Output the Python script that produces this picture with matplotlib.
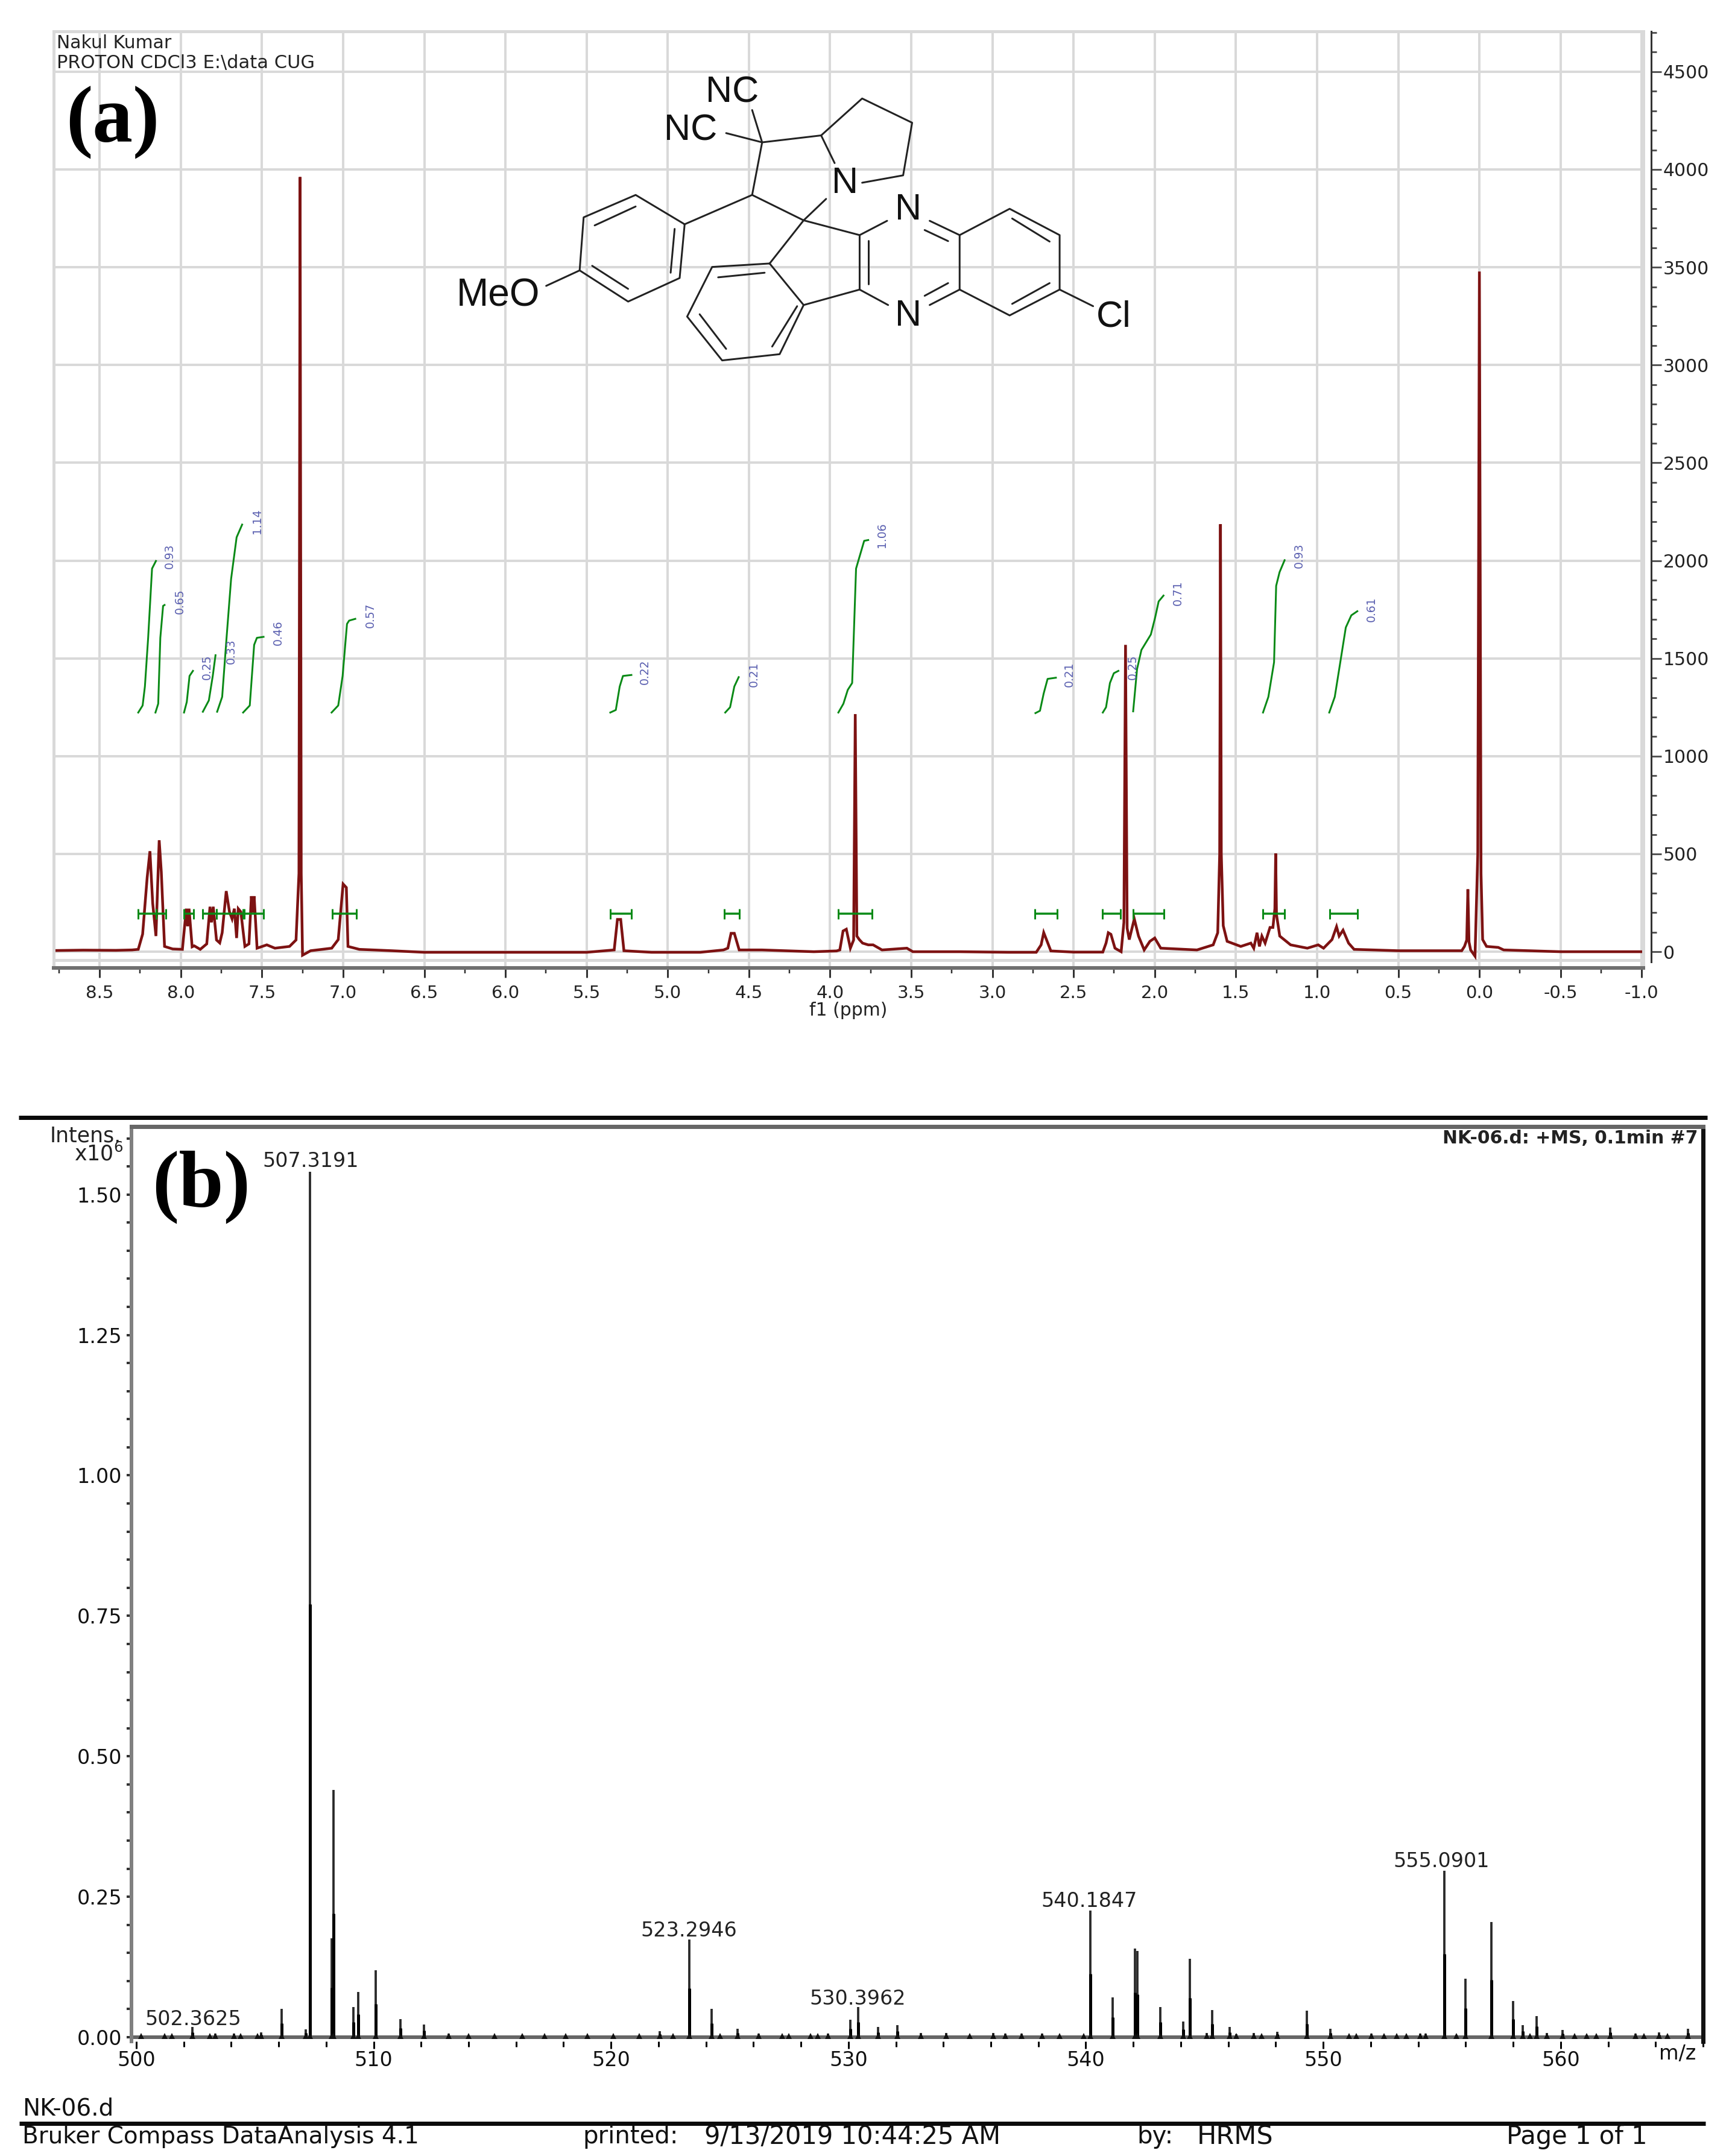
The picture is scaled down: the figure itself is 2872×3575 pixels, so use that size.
import numpy as np
import matplotlib
matplotlib.use("Agg")
import matplotlib.pyplot as plt
from matplotlib.ticker import MultipleLocator

W, H = 2872, 3575
DPI = 100
px = 72.0 / DPI  # one image pixel in points

# ---- panel (a): 1H NMR ----
nmr_ppm = [8.78, 8.6, 8.4, 8.3, 8.262, 8.235, 8.207, 8.19, 8.173, 8.153, 8.133, 8.12, 8.10, 8.05, 7.99,
           7.966, 7.958, 7.949, 7.93, 7.917, 7.88, 7.84, 7.82, 7.811, 7.80, 7.78, 7.76, 7.745, 7.72, 7.70, 7.684,
           7.67, 7.656, 7.646, 7.63, 7.605, 7.58, 7.565, 7.557, 7.548, 7.53, 7.47, 7.42, 7.33, 7.29, 7.272, 7.265,
           7.258, 7.25, 7.2, 7.07, 7.03, 7.0, 6.98, 6.97, 6.9, 6.7, 6.5, 6.0, 5.5, 5.33, 5.31, 5.29, 5.27, 5.1, 4.8,
           4.657, 4.63, 4.61, 4.59, 4.56, 4.42, 4.1, 3.96, 3.94, 3.92, 3.90, 3.875, 3.855, 3.845, 3.835, 3.82,
           3.80, 3.765, 3.735, 3.68, 3.527, 3.49, 3.2, 2.9, 2.73, 2.70, 2.684, 2.667, 2.64, 2.5, 2.32, 2.30, 2.286,
           2.27, 2.245, 2.207, 2.19, 2.18, 2.17, 2.157, 2.126, 2.10, 2.065, 2.03, 2.0, 1.963, 1.74, 1.64, 1.612,
           1.60, 1.595, 1.59, 1.578, 1.554, 1.47, 1.408, 1.39, 1.37, 1.355, 1.34, 1.32, 1.29, 1.272, 1.26, 1.255,
           1.25, 1.23, 1.163, 1.06, 0.993, 0.96, 0.908, 0.88, 0.864, 0.84, 0.806, 0.772, 0.5, 0.109, 0.092, 0.078,
           0.071, 0.064, 0.054, 0.027, 0.01, 0.0, -0.01, -0.02, -0.044, -0.116, -0.15, -0.5, -1.0]
nmr_int = [6, 8, 7, 9, 12, 90, 380, 514, 248, 80, 570, 408, 27, 14, 12,
           220, 130, 220, 25, 30, 12, 40, 230, 150, 230, 60, 45, 97, 310, 204, 168,
           220, 70, 220, 204, 27, 40, 284, 200, 284, 18, 35, 18, 27, 60, 400, 3961,
           400, -18, 5, 18, 62, 346, 328, 27, 12, 5, -3, -3, -3, 9, 165, 165, 5, -3, -3,
           9, 18, 94, 94, 9, 9, 0, 4, 9, 106, 115, 18, 60, 1215, 80, 62,
           44, 35, 35, 9, 18, 0, 0, -3, -3, 35, 98, 62, 4, -2, -2, 44, 97,
           89, 18, 0, 150, 1569, 120, 62, 168, 80, 9, 53, 70, 18, 9, 35, 97,
           500, 2186, 500, 133, 53, 27, 44, 18, 97, 27, 80, 44, 124, 124, 220, 502,
           190, 80, 35, 18, 35, 18, 62, 128, 80, 110, 44, 12, 5, 5, 27, 60,
           319, 50, 9, -23, 500, 3478, 400, 62, 27, 22, 9, 0, 0]

y_ticks_a = [0, 500, 1000, 1500, 2000, 2500, 3000, 3500, 4000, 4500]
x_ticks_a = [8.5, 8.0, 7.5, 7.0, 6.5, 6.0, 5.5, 5.0, 4.5, 4.0, 3.5, 3.0, 2.5, 2.0, 1.5, 1.0, 0.5, 0.0, -0.5, -1.0]

# integral curves (ppm, height) and their labels
int_x = [[8.262, 8.235, 8.221, 8.201, 8.177, 8.153],
         [8.156, 8.139, 8.126, 8.109, 8.10],
         [7.98, 7.963, 7.946, 7.925],
         [7.864, 7.827, 7.803, 7.786],
         [7.776, 7.745, 7.718, 7.69, 7.656, 7.622],
         [7.616, 7.575, 7.548, 7.531, 7.49],
         [7.071, 7.03, 7.003, 6.976, 6.963, 6.925],
         [5.354, 5.32, 5.296, 5.276, 5.224],
         [4.646, 4.616, 4.59, 4.563],
         [3.949, 3.918, 3.891, 3.864, 3.84, 3.79, 3.765],
         [2.735, 2.707, 2.684, 2.66, 2.609],
         [2.32, 2.30, 2.276, 2.252, 2.224],
         [2.133, 2.109, 2.082, 2.024, 1.997, 1.976, 1.946],
         [1.333, 1.30, 1.265, 1.252, 1.231, 1.20],
         [0.925, 0.891, 0.857, 0.823, 0.789, 0.752]]
int_y = [[1223, 1259, 1356, 1605, 1959, 1998],
         [1223, 1268, 1605, 1768, 1773],
         [1223, 1277, 1410, 1436],
         [1227, 1285, 1410, 1516],
         [1227, 1303, 1605, 1906, 2119, 2184],
         [1223, 1259, 1569, 1605, 1610],
         [1223, 1259, 1410, 1676, 1693, 1702],
         [1223, 1236, 1356, 1410, 1415],
         [1223, 1250, 1356, 1404],
         [1223, 1268, 1339, 1374, 1959, 2101, 2105],
         [1220, 1232, 1321, 1395, 1401],
         [1223, 1250, 1374, 1424, 1436],
         [1229, 1445, 1543, 1622, 1711, 1791, 1821],
         [1223, 1303, 1480, 1871, 1941, 2002],
         [1223, 1303, 1480, 1658, 1720, 1741]]
int_labels = ["0.93", "0.65", "0.25", "0.33", "1.14", "0.46", "0.57", "0.22", "0.21", "1.06", "0.21", "0.25", "0.71", "0.93", "0.61"]
int_label_x = [8.07, 8.007, 7.837, 7.69, 7.53, 7.40, 6.833, 5.14, 4.47, 3.68, 2.524, 2.136, 1.857, 1.112, 0.663]
int_label_y = [2021, 1791, 1454, 1534, 2202, 1631, 1720, 1431, 1418, 2131, 1417, 1454, 1835, 2025, 1752]

range_lo = [8.262, 8.153, 7.98, 7.864, 7.779, 7.616, 7.068, 5.354, 4.65, 3.949, 2.738, 2.323, 2.133, 1.333, 0.922]
range_hi = [8.153, 8.092, 7.922, 7.779, 7.609, 7.49, 6.918, 5.224, 4.558, 3.74, 2.602, 2.211, 1.942, 1.2, 0.752]
range_level = 195

# ---- panel (b): HRMS sticks ----
ms_mz = [502.36, 503.33, 504.13, 505.27, 506.13, 507.13, 507.32, 508.23, 508.32, 509.14, 509.35, 510.09, 511.14,
         512.12, 513.17, 516.27, 522.05, 523.29, 524.24, 525.34, 526.22, 529.14, 530.09, 530.40, 531.24, 532.06,
         533.06, 534.11, 536.10, 536.6, 537.3, 538.15, 540.18, 541.12, 542.06, 542.17, 543.13, 544.11, 544.39,
         545.09, 545.33, 546.05, 546.33, 547.08, 548.06, 549.32, 550.30, 552.03, 552.57, 554.09, 554.32, 555.09,
         556.0, 557.08, 558.01, 558.41, 559.0, 559.42, 560.09, 561.1, 562.1, 563.15, 564.14, 565.37]
ms_int = [.018, .006, .006, .009, .05, .014, 1.541, .176, .44, .054, .081, .119, .032,
          .023, .006, .004, .011, .174, .05, .015, .006, .006, .031, .054, .018, .021,
          .007, .007, .007, .006, .006, .006, .225, .071, .158, .153, .054, .028, .14,
          .007, .048, .018, .005, .007, .01, .047, .015, .006, .004, .006, .006, .296,
          .104, .205, .064, .022, .038, .007, .013, .004, .017, .006, .009, .015]
# the low grass along the baseline
grass_mz = [500.2, 501.2, 501.5, 503.1, 504.4, 505.1, 514.0, 515.1, 517.2, 518.1, 519.0, 520.1, 521.2, 522.6, 524.6,
            527.2, 527.5, 528.4, 528.7, 535.1, 538.9, 539.9, 547.4, 551.1, 551.4, 553.1, 553.5, 555.6, 558.7, 560.6, 561.5, 563.5, 564.5]
grass_int = [.002, .003, .003, .002, .003, .002, .003, .002, .003, .003, .003, .003, .002, .003, .002,
             .003, .003, .003, .002, .003, .003, .003, .003, .003, .002, .003, .002, .004, .003, .003, .003, .002, .003]
ms_labels = ["502.3625", "507.3191", "523.2946", "530.3962", "540.1847", "555.0901"]
ms_label_mz = [502.39, 507.34, 523.29, 530.4, 540.13, 554.97]
ms_label_int = [.032, 1.559, .189, .068, .242, .313]
y_ticks_b = [0.00, 0.25, 0.50, 0.75, 1.00, 1.25, 1.50]
x_ticks_b = [500, 510, 520, 530, 540, 550, 560]

GRID = "#d9d9d9"
RED = "#7d1212"
GREEN = "#0a8a16"
BLUE = "#5a5fb0"


def box(l, t, r, b):
    # pixel box -> figure fraction rectangle
    return [l / W, 1 - b / H, (r - l) / W, (b - t) / H]


fig = plt.figure(figsize=(W / DPI, H / DPI), dpi=DPI, facecolor="white")

# panel a
ax = fig.add_axes(box(89, 52, 2725, 1605))
ax.set_xlim(8.783, -1.01)
ax.set_ylim(-83, 4706)
for sp in ["top", "right", "left"]:
    ax.spines[sp].set_color(GRID)
    ax.spines[sp].set_linewidth(5 * px)
ax.spines["bottom"].set_color("#707070")
ax.spines["bottom"].set_linewidth(6 * px)
ax.grid(True, color=GRID, lw=4 * px)
ax.set_axisbelow(True)
ax.axhline(-43, color=GRID, lw=5 * px)
ax.set_xticks(x_ticks_a)
ax.set_xticklabels([f"{v:.1f}" for v in x_ticks_a], fontsize=21, color="#222222")
ax.xaxis.set_minor_locator(MultipleLocator(0.25))
ax.tick_params(axis="x", which="major", length=16 * px, width=3 * px, color="#333333", pad=12 * px)
ax.tick_params(axis="x", which="minor", length=9 * px, width=2.5 * px, color="#333333")
ax.set_yticks(y_ticks_a)
ax.tick_params(axis="y", left=False, labelleft=False)
ax.plot(nmr_ppm, nmr_int, color=RED, lw=4.5 * px, solid_joinstyle="miter")

for xs, ys in zip(int_x, int_y):
    ax.plot(xs, ys, color=GREEN, lw=3 * px)
for x, y, s in zip(int_label_x, int_label_y, int_labels):
    ax.text(x, y, s, rotation=90, ha="center", va="center", fontsize=13.5, color=BLUE)
ax.hlines([range_level] * len(range_lo), range_lo, range_hi, color=GREEN, lw=3.5 * px)
for lo, hi in zip(range_lo, range_hi):
    ax.plot([lo, hi], [range_level, range_level], "|", color=GREEN, ms=17 * px, mew=3 * px)
ax.set_xlabel("f1 (ppm)", fontsize=21.5, color="#222222", labelpad=0)

# the separate y scale on the right of panel a
ay = fig.add_axes(box(2737, 52, 2738, 1595))
ay.patch.set_visible(False)
ay.set_ylim(-52, 4706)
ay.set_xticks([])
for sp in ["top", "bottom", "left"]:
    ay.spines[sp].set_visible(False)
ay.spines["right"].set_linewidth(3 * px)
ay.spines["right"].set_color("#333333")
ay.yaxis.tick_right()
ay.set_yticks(y_ticks_a)
ay.set_yticklabels([str(v) for v in y_ticks_a], fontsize=21.5, color="#222222")
ay.yaxis.set_minor_locator(MultipleLocator(100))
ay.tick_params(axis="y", which="major", length=17 * px, width=3 * px, color="#555555", pad=3 * px)
ay.tick_params(axis="y", which="minor", length=9 * px, width=3 * px, color="#555555")

# panel b
bx = fig.add_axes(box(218, 1868, 2824, 3385))
bx.set_xlim(499.8, 566.0)
bx.set_ylim(-0.0075, 1.621)
bx.spines["top"].set_color("#666666")
bx.spines["top"].set_linewidth(7 * px)
bx.spines["left"].set_color("#808080")
bx.spines["left"].set_linewidth(6 * px)
bx.spines["right"].set_color("#111111")
bx.spines["right"].set_linewidth(7 * px)
bx.spines["bottom"].set_visible(False)
bx.axhline(0, color="#666666", lw=6 * px)
bx.vlines(ms_mz, 0, ms_int, color="#2a2a2a", lw=3.8 * px)
bx.vlines(ms_mz, 0, [v * 0.5 for v in ms_int], color="#000000", lw=5 * px)
bx.vlines(grass_mz, 0, grass_int, color="#111111", lw=4 * px)
bx.plot(ms_mz + grass_mz, [0.002] * (len(ms_mz) + len(grass_mz)), "^", color="#111111", ms=10 * px, mew=0)
for s, m, v in zip(ms_labels, ms_label_mz, ms_label_int):
    bx.text(m, v, s, ha="center", va="center", fontsize=24, color="#222222")
bx.set_xticks(x_ticks_b)
bx.set_xticklabels([str(v) for v in x_ticks_b], fontsize=24, color="#111111")
bx.xaxis.set_minor_locator(MultipleLocator(2))
bx.set_yticks(y_ticks_b)
bx.set_yticklabels([f"{v:.2f}" for v in y_ticks_b], fontsize=24, color="#111111")
bx.yaxis.set_minor_locator(MultipleLocator(0.05))
bx.tick_params(axis="x", which="major", length=12 * px, width=3 * px, pad=3 * px)
bx.tick_params(axis="x", which="minor", length=9 * px, width=3 * px)
bx.tick_params(axis="y", which="both", length=8 * px, width=4 * px, pad=8 * px, color="#333333")

# molecule: drawn in the coordinates of its own little box
mol = fig.add_axes(box(700, 60, 2000, 660))
mol.set_xlim(0, 1568)
mol.set_ylim(1568, 0)
mol.axis("off")
bonds = [
    [(660, 320), (680, 460), (798, 430), (825, 550)],
    [(608, 420), (680, 460), (660, 688), (763, 798), (875, 862), (930, 800)],
    [(798, 430), (880, 270), (980, 375), (962, 603), (880, 635)],
    [(808, 705), (763, 798), (695, 985)],
    [(660, 688), (525, 815), (427, 688), (323, 785), (315, 1015), (412, 1150), (515, 1048), (525, 815)],
    [(345, 820), (427, 738)], [(497, 1025), (505, 835)], [(340, 995), (412, 1095)],
    [(248, 1082), (315, 1015)],
    [(695, 985), (580, 1000), (530, 1215), (600, 1405), (715, 1378), (763, 1165), (695, 985)],
    [(592, 1045), (685, 1025)], [(555, 1205), (608, 1355)], [(700, 1345), (750, 1170)],
    [(763, 1165), (875, 1098), (875, 862)], [(892, 885), (892, 1075)], [(875, 1098), (932, 1165)],
    [(1015, 800), (1075, 862)], [(1005, 840), (1052, 888)],
    [(1015, 1165), (1075, 1098)], [(1005, 1125), (1052, 1070)],
    [(1075, 1098), (1075, 862), (1175, 748), (1275, 862), (1275, 1098), (1175, 1210), (1075, 1098)],
    [(1180, 790), (1255, 890)], [(1180, 1160), (1255, 1070)],
    [(1275, 1098), (1342, 1170)],
]
for b in bonds:
    mol.plot([p[0] for p in b], [p[1] for p in b], color="#222222", lw=3 * px, solid_capstyle="round")
atoms = [("NC", 620, 246), ("NC", 537, 410), ("N", 845, 640), ("N", 972, 755), ("N", 972, 1213),
         ("MeO", 152, 1125), ("Cl", 1383, 1217)]
for s, x, y in atoms:
    mol.text(x, y, s, ha="center", va="center", fontsize=46 if s == "MeO" else 44, family="Liberation Sans", color="#111111")

# overlay for page-level rules and text, in image pixels
pg = fig.add_axes([0, 0, 1, 1])
pg.set_xlim(0, W)
pg.set_ylim(H, 0)
pg.axis("off")
pg.patch.set_visible(False)
pg.plot([31, 2831], [1853, 1853], color="#0a0a0a", lw=7 * px, solid_capstyle="butt")
pg.plot([32, 2828], [3521, 3521], color="#0a0a0a", lw=7 * px, solid_capstyle="butt")
pg.text(94, 72, "Nakul Kumar", fontsize=21.5, va="center", color="#222222")
pg.text(94, 105, "PROTON CDCl3 E:\\data CUG", fontsize=22, va="center", color="#222222")
pg.text(187, 203, "(a)", fontsize=96, ha="center", va="center", family="Liberation Serif", weight="bold", color="black")
pg.text(334, 1968, "(b)", fontsize=96, ha="center", va="center", family="Liberation Serif", weight="bold", color="black")
pg.text(201, 1883, "Intens.", fontsize=25, ha="right", va="center", color="#222222")
pg.text(204, 1913, "x10$^{6}$", fontsize=25, ha="right", va="center", color="#222222")
pg.text(2815, 1887, "NK-06.d: +MS, 0.1min #7", fontsize=21.5, ha="right", va="center", color="#222222", weight="bold")
pg.text(2782, 3405, "m/z", fontsize=24, ha="center", va="center", color="#111111")
pg.text(37, 3497, "NK-06.d", fontsize=28, va="center", color="#111111")
pg.text(37, 3543, "Bruker Compass DataAnalysis 4.1", fontsize=28, va="center", color="#111111")
pg.text(966, 3543, "printed:", fontsize=29, va="center", color="#111111")
pg.text(1168, 3543, "9/13/2019 10:44:25 AM", fontsize=30, va="center", color="#111111")
pg.text(1885, 3543, "by:", fontsize=29, va="center", color="#111111")
pg.text(1985, 3543, "HRMS", fontsize=31, va="center", color="#111111")
pg.text(2498, 3543, "Page 1 of 1", fontsize=30, va="center", color="#111111")

fig.savefig("out.png", dpi=DPI)
